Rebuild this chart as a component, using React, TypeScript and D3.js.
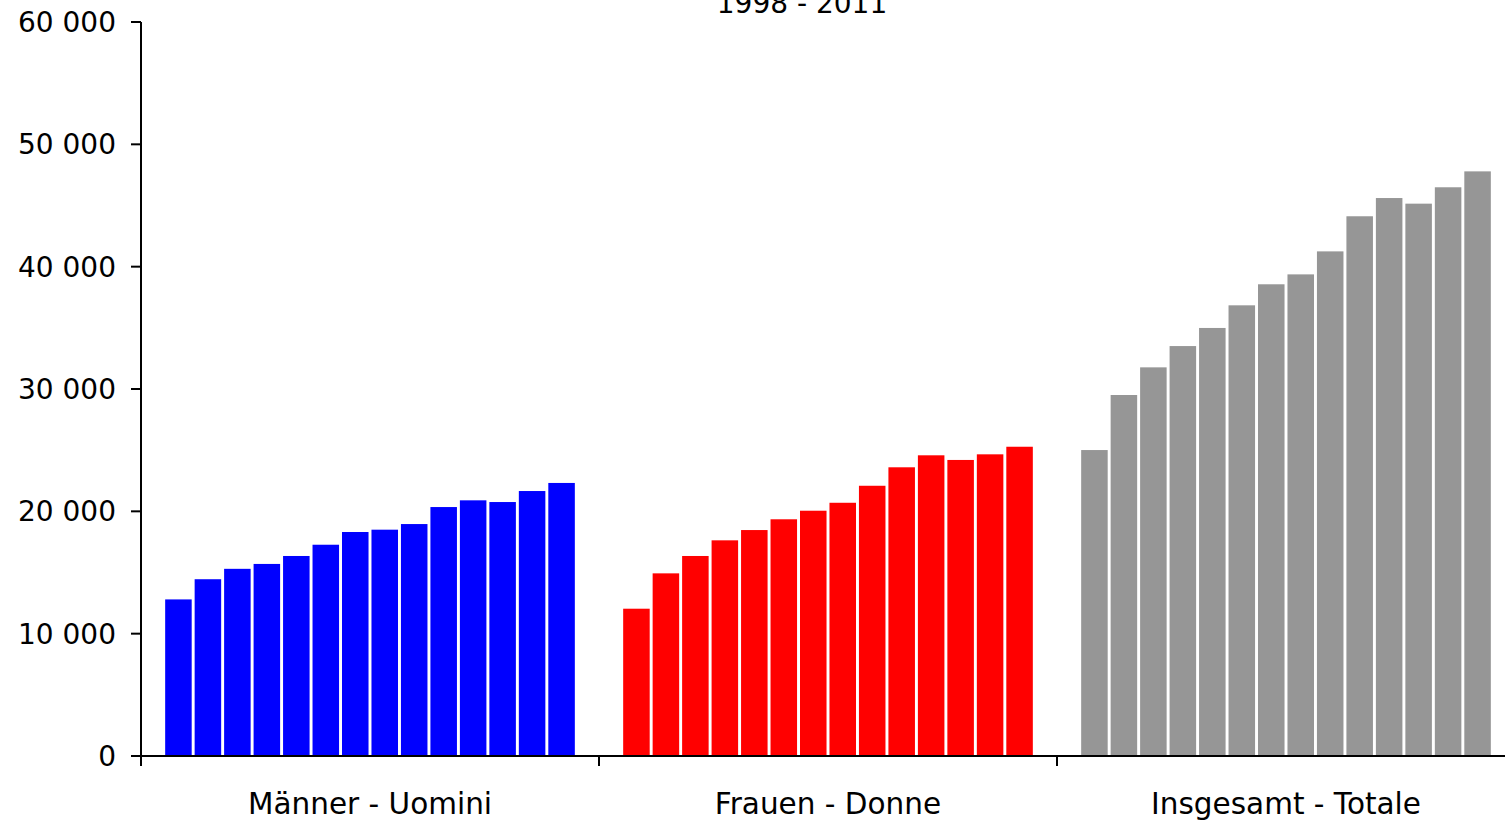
import React from "react";
import * as d3 from "d3";

const years = ["1998","1999","2000","2001","2002","2003","2004","2005","2006","2007","2008","2009","2010","2011"];
const categories = ["Männer - Uomini", "Frauen - Donne", "Insgesamt - Totale"];
const maenner = [12800, 14450, 15300, 15700, 16350, 17270, 18310, 18500, 18960, 20350, 20900, 20760, 21660, 22320];
const frauen = [12040, 14930, 16350, 17630, 18470, 19350, 20050, 20700, 22090, 23600, 24580, 24200, 24660, 25280];
const insgesamt = [25010, 29510, 31770, 33510, 34990, 36840, 38560, 39370, 41250, 44120, 45610, 45150, 46490, 47790];
const seriesValues = [maenner, frauen, insgesamt];
const colors = ["#0000ff", "#ff0000", "#969696"];
const yTicks = [0, 10000, 20000, 30000, 40000, 50000, 60000];
const title = "1998 - 2011";

const fmt = (v: number) => d3.format(",")(v).replace(/,/g, " ");

export default function App() {
  const W = 1505, H = 823;
  const left = 141, right = 1515, top = 22, bottom = 756;
  const font = "'DejaVu Sans', sans-serif";
  const y = d3.scaleLinear().domain([0, 60000]).range([bottom, top]);
  const xg = d3.scaleBand<string>().domain(categories).range([left, right]).padding(0);
  const xi = d3.scaleBand<string>().domain(years).range([0, xg.bandwidth()]).paddingInner(0.1).paddingOuter(0.82);
  const groupTicks = [left, ...categories.map((c) => (xg(c) as number) + xg.bandwidth())];

  return (
    <svg width={W} height={H} style={{ position: "absolute", left: 0, top: 0, background: "#fff" }}>
      <text x={802} y={13} fontFamily={font} fontSize={28} textAnchor="middle" fill="#000">{title}</text>
      {categories.map((c, ci) => (
        <g key={c}>
          {seriesValues[ci].map((v, i) => (
            <rect key={i} x={(xg(c) as number) + (xi(years[i]) as number)} y={y(v)} width={xi.bandwidth()} height={bottom - y(v)} fill={colors[ci]} />
          ))}
          <text x={(xg(c) as number) + xg.bandwidth() / 2} y={814} fontFamily={font} fontSize={29.5} textAnchor="middle" fill="#000">{c}</text>
        </g>
      ))}
      <line x1={left} x2={right} y1={bottom} y2={bottom} stroke="#000" strokeWidth={2} />
      <line x1={left} x2={left} y1={top} y2={bottom + 10} stroke="#000" strokeWidth={2} />
      {groupTicks.map((t, i) => (
        <line key={i} x1={t} x2={t} y1={bottom} y2={bottom + 10} stroke="#000" strokeWidth={2} />
      ))}
      {yTicks.map((t) => (
        <g key={t}>
          <line x1={left - 10} x2={left} y1={y(t)} y2={y(t)} stroke="#000" strokeWidth={2} />
          <text x={116} y={y(t) + 10} fontFamily={font} fontSize={28} textAnchor="end" fill="#000">{fmt(t)}</text>
        </g>
      ))}
    </svg>
  );
}
